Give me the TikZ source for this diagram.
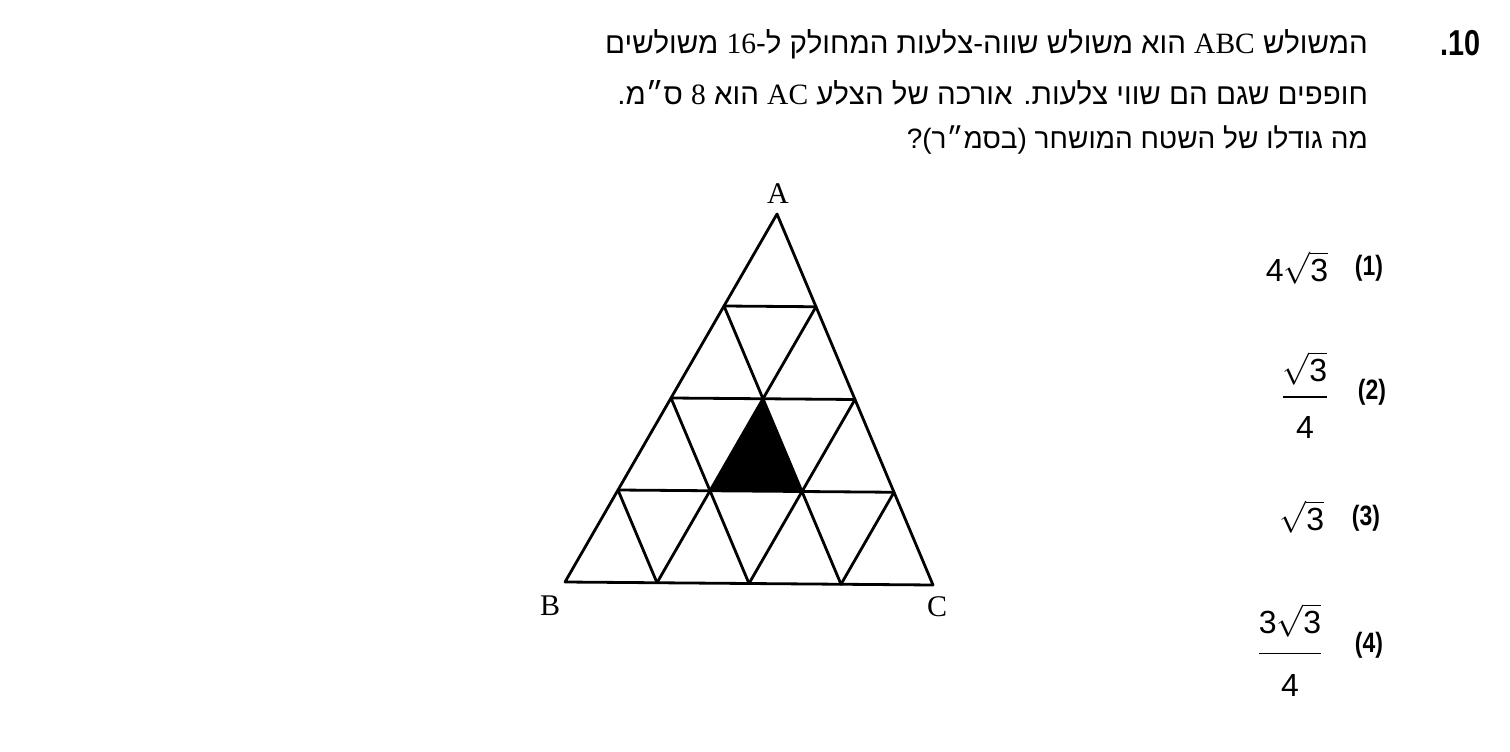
\documentclass[tikz,border=0pt]{standalone}
\usepackage{fontspec}
\setmainfont{Liberation Serif}
\setsansfont{Liberation Sans}
\newfontfamily\hebfont[Script=Hebrew]{Liberation Sans}
\TeXXeTstate=1
\usetikzlibrary{calc}
\begin{document}
\begin{tikzpicture}[x=1pt,y=-1pt,
  tri/.style={line width=2.8pt,line join=round,line cap=round},
  heb/.style={anchor=base east,inner sep=0pt,font=\fontsize{29.5}{34}\hebfont},
  vlabel/.style={font=\fontsize{30}{36}\selectfont\rmfamily,inner sep=0pt},
  optlabel/.style={font=\fontsize{28}{32}\selectfont\sffamily\bfseries,inner sep=0pt,xscale=0.82},
  ans/.style={font=\normalsize\sffamily,inner sep=0pt,scale=3.2},
  qnum/.style={anchor=base east,inner sep=0pt,font=\fontsize{36}{40}\selectfont\sffamily\bfseries,xscale=0.8}]
\useasboundingbox[fill=white] (0,0) rectangle (1510,752);

% question text
\node[qnum] (num) at (1481,56) {10};
\node[qnum] (numdot) at (num.base west) {.};
\node[heb] (line1) at (1368,54) {\beginR המשולש \beginL{\rmfamily ABC}\endL{} הוא משולש שווה-צלעות המחולק ל-\beginL{\rmfamily 16}\endL{} משולשים\endR};
\node[heb] (line2) at (1368,104) {\beginR חופפים שגם הם שווי צלעות. אורכה של הצלע \beginL{\rmfamily AC}\endL{} הוא \beginL{\rmfamily 8}\endL{} ס״מ.\endR};
\node[heb,font=\fontsize{28}{34}\hebfont] (line3) at (1368,148) {\beginR מה גודלו של השטח המושחר (בסמ״ר)?\endR};

% triangle grid
\coordinate (B) at (565,582);
\coordinate (C) at (933,585);
\coordinate (A) at (777,214);
\foreach \j in {0,...,4}{
  \pgfmathtruncatemacro\m{4-\j}
  \foreach \i in {0,...,\m}{
    \pgfmathtruncatemacro\k{4-\i-\j}
    \coordinate (p\i\j) at (barycentric cs:B=\k,C=\i,A=\j);
  }
}
\fill[black] (p11) -- (p21) -- (p12) -- cycle;
\draw[tri] (p00) -- (p40) -- (p04) -- cycle;
\draw[tri] (p01) -- (p31);
\draw[tri] (p02) -- (p22);
\draw[tri] (p03) -- (p13);
\draw[tri] (p10) -- (p13);
\draw[tri] (p20) -- (p22);
\draw[tri] (p30) -- (p31);
\draw[tri] (p10) -- (p01);
\draw[tri] (p20) -- (p02);
\draw[tri] (p30) -- (p03);

\node[vlabel] (lA) at (778,194) {A};
\node[vlabel] (lB) at (550,606) {B};
\node[vlabel] (lC) at (937,607) {C};

% answers
\node[ans] (e1) at (1297,268) {$\mathsf{4}\sqrt{\mathsf{3}}$};
\node[optlabel] (o1) at (1369,268) {(1)};
\node[ans] (e2) at (1305,395) {$\displaystyle\frac{\sqrt{\mathsf{3}}\rule[-3.5pt]{0pt}{3pt}}{\rule{0pt}{11.5pt}\mathsf{4}}$};
\node[optlabel] (o2) at (1372,392) {(2)};
\node[ans] (e3) at (1302,517) {$\sqrt{\mathsf{3}}$};
\node[optlabel] (o3) at (1366,518) {(3)};
\node[ans] (e4) at (1290,650) {$\displaystyle\frac{\mathsf{3}\sqrt{\mathsf{3}}\rule[-5pt]{0pt}{3pt}}{\rule{0pt}{12pt}\mathsf{4}}$};
\node[optlabel] (o4) at (1369,645) {(4)};
\end{tikzpicture}
\end{document}
